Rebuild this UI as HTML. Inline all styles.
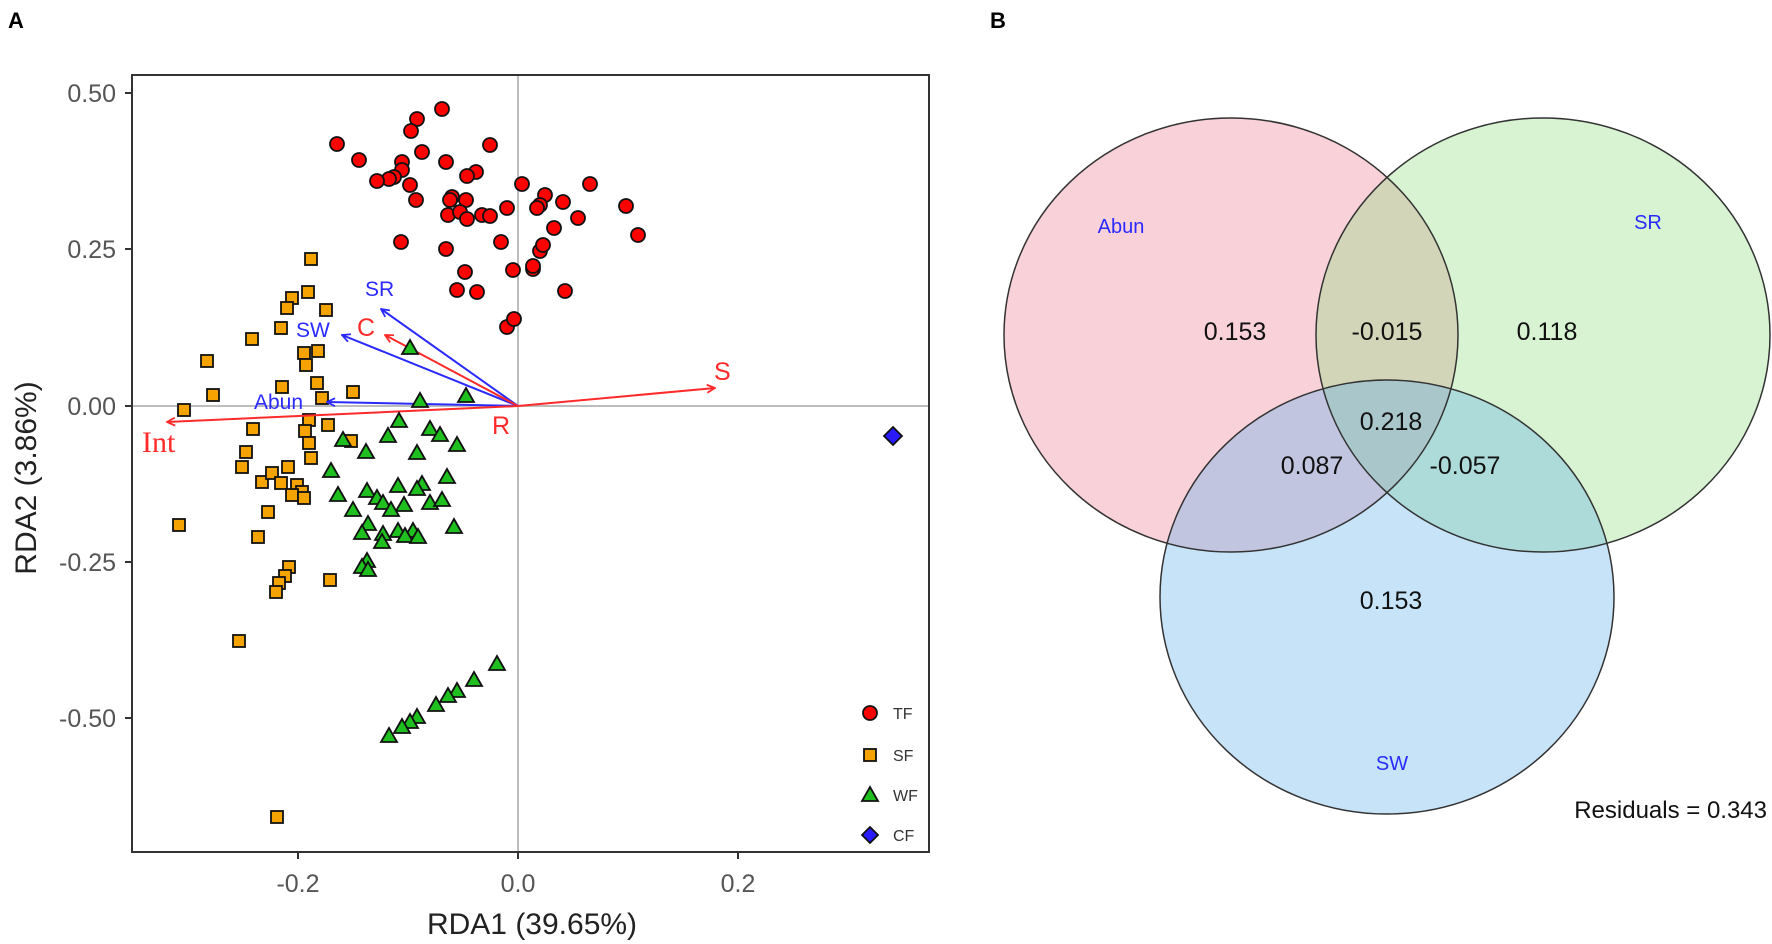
<!DOCTYPE html>
<html><head><meta charset="utf-8"><style>
html,body{margin:0;padding:0;background:#fff;}
svg{display:block;font-family:"Liberation Sans",sans-serif;}
</style></head><body>
<svg width="1772" height="944" viewBox="0 0 1772 944" xmlns="http://www.w3.org/2000/svg">
<defs>
<marker id="ab" markerWidth="10" markerHeight="10" refX="9" refY="5" orient="auto" markerUnits="userSpaceOnUse"><path d="M1,1 L9,5 L1,9" fill="none" stroke="#2a2aff" stroke-width="1.8"/></marker>
<marker id="ar" markerWidth="10" markerHeight="10" refX="9" refY="5" orient="auto" markerUnits="userSpaceOnUse"><path d="M1,1 L9,5 L1,9" fill="none" stroke="#ff2a2a" stroke-width="1.8"/></marker>
</defs>
<text x="8" y="28" font-size="22" font-weight="bold">A</text>
<text x="990" y="28" font-size="22" font-weight="bold">B</text>
<line x1="132" y1="406" x2="930" y2="406" stroke="#bdbdbd" stroke-width="2"/>
<line x1="518" y1="75" x2="518" y2="852" stroke="#bdbdbd" stroke-width="2"/>
<g fill="#ff0000" stroke="#111" stroke-width="1.8">
<circle cx="337" cy="144" r="7"/><circle cx="359" cy="160" r="7"/><circle cx="417" cy="119" r="7"/><circle cx="411" cy="131" r="7"/><circle cx="442" cy="109" r="7"/><circle cx="402" cy="162" r="7"/><circle cx="402" cy="170" r="7"/><circle cx="394" cy="177" r="7"/><circle cx="389" cy="179" r="7"/><circle cx="377" cy="181" r="7"/><circle cx="410" cy="185" r="7"/><circle cx="422" cy="152" r="7"/><circle cx="446" cy="162" r="7"/><circle cx="490" cy="145" r="7"/><circle cx="476" cy="172" r="7"/><circle cx="467" cy="176" r="7"/><circle cx="416" cy="200" r="7"/><circle cx="452" cy="197" r="7"/><circle cx="450" cy="200" r="7"/><circle cx="466" cy="200" r="7"/><circle cx="448" cy="215" r="7"/><circle cx="460" cy="212" r="7"/><circle cx="467" cy="219" r="7"/><circle cx="482" cy="215" r="7"/><circle cx="490" cy="216" r="7"/><circle cx="507" cy="208" r="7"/><circle cx="401" cy="242" r="7"/><circle cx="446" cy="249" r="7"/><circle cx="501" cy="242" r="7"/><circle cx="465" cy="272" r="7"/><circle cx="457" cy="290" r="7"/><circle cx="477" cy="292" r="7"/><circle cx="513" cy="270" r="7"/><circle cx="507" cy="327" r="7"/><circle cx="514" cy="319" r="7"/>
<circle cx="522" cy="184" r="7"/><circle cx="590" cy="184" r="7"/><circle cx="545" cy="195" r="7"/><circle cx="540" cy="205" r="7"/><circle cx="537" cy="208" r="7"/><circle cx="563" cy="202" r="7"/><circle cx="578" cy="218" r="7"/><circle cx="626" cy="206" r="7"/><circle cx="638" cy="235" r="7"/><circle cx="554" cy="228" r="7"/><circle cx="540" cy="251" r="7"/><circle cx="543" cy="245" r="7"/><circle cx="533" cy="269" r="7"/><circle cx="533" cy="266" r="7"/><circle cx="565" cy="291" r="7"/>
</g>
<g fill="#f5a300" stroke="#111" stroke-width="1.8">
<rect x="305" y="253" width="12" height="12"/><rect x="302" y="286" width="12" height="12"/><rect x="286" y="292" width="12" height="12"/><rect x="281" y="302" width="12" height="12"/><rect x="320" y="304" width="12" height="12"/><rect x="275" y="322" width="12" height="12"/><rect x="246" y="333" width="12" height="12"/><rect x="201" y="355" width="12" height="12"/><rect x="298" y="347" width="12" height="12"/><rect x="312" y="345" width="12" height="12"/><rect x="300" y="359" width="12" height="12"/><rect x="207" y="389" width="12" height="12"/><rect x="178" y="404" width="12" height="12"/><rect x="276" y="381" width="12" height="12"/><rect x="311" y="377" width="12" height="12"/><rect x="347" y="386" width="12" height="12"/><rect x="316" y="392" width="12" height="12"/><rect x="303" y="414" width="12" height="12"/><rect x="322" y="419" width="12" height="12"/><rect x="299" y="425" width="12" height="12"/><rect x="303" y="437" width="12" height="12"/><rect x="305" y="452" width="12" height="12"/><rect x="345" y="435" width="12" height="12"/><rect x="247" y="423" width="12" height="12"/><rect x="240" y="446" width="12" height="12"/><rect x="236" y="461" width="12" height="12"/><rect x="256" y="476" width="12" height="12"/><rect x="266" y="467" width="12" height="12"/><rect x="282" y="461" width="12" height="12"/><rect x="275" y="477" width="12" height="12"/><rect x="291" y="479" width="12" height="12"/><rect x="296" y="486" width="12" height="12"/><rect x="286" y="489" width="12" height="12"/><rect x="298" y="492" width="12" height="12"/><rect x="262" y="506" width="12" height="12"/><rect x="173" y="519" width="12" height="12"/><rect x="252" y="531" width="12" height="12"/><rect x="283" y="561" width="12" height="12"/><rect x="279" y="570" width="12" height="12"/><rect x="273" y="577" width="12" height="12"/><rect x="270" y="586" width="12" height="12"/><rect x="324" y="574" width="12" height="12"/><rect x="233" y="635" width="12" height="12"/><rect x="271" y="811" width="12" height="12"/>
</g>
<g stroke-width="2" fill="none">
<line x1="518" y1="406" x2="381" y2="309" stroke="#2a2aff" marker-end="url(#ab)"/>
<line x1="518" y1="406" x2="342" y2="335" stroke="#2a2aff" marker-end="url(#ab)"/>
<line x1="518" y1="406" x2="385" y2="335" stroke="#ff2a2a" marker-end="url(#ar)"/>
<line x1="518" y1="406" x2="327" y2="402" stroke="#2a2aff" marker-end="url(#ab)"/>
<line x1="518" y1="406" x2="167" y2="422" stroke="#ff2a2a" marker-end="url(#ar)"/>
<line x1="518" y1="406" x2="715" y2="388" stroke="#ff2a2a" marker-end="url(#ar)"/>
</g>
<g fill="#1fbf1f" stroke="#111" stroke-width="1.8">
<path d="M410,340 l8,14 h-16z"/><path d="M420,393 l8,14 h-16z"/><path d="M466,388 l8,14 h-16z"/>
<path d="M399,413 l8,14 h-16z"/><path d="M430,421 l8,14 h-16z"/><path d="M440,427 l8,14 h-16z"/><path d="M388,428 l8,14 h-16z"/><path d="M343,432 l8,14 h-16z"/><path d="M457,437 l8,14 h-16z"/><path d="M366,444 l8,14 h-16z"/><path d="M417,445 l8,14 h-16z"/><path d="M331,463 l8,14 h-16z"/><path d="M447,469 l8,14 h-16z"/><path d="M398,478 l8,14 h-16z"/><path d="M422,476 l8,14 h-16z"/><path d="M417,481 l8,14 h-16z"/><path d="M367,483 l8,14 h-16z"/><path d="M338,487 l8,14 h-16z"/><path d="M377,490 l8,14 h-16z"/><path d="M383,495 l8,14 h-16z"/><path d="M430,495 l8,14 h-16z"/><path d="M442,492 l8,14 h-16z"/><path d="M404,497 l8,14 h-16z"/><path d="M391,502 l8,14 h-16z"/><path d="M353,502 l8,14 h-16z"/><path d="M368,516 l8,14 h-16z"/><path d="M362,525 l8,14 h-16z"/><path d="M398,523 l8,14 h-16z"/><path d="M413,523 l8,14 h-16z"/><path d="M383,526 l8,14 h-16z"/><path d="M405,528 l8,14 h-16z"/><path d="M418,529 l8,14 h-16z"/><path d="M382,534 l8,14 h-16z"/><path d="M454,519 l8,14 h-16z"/><path d="M367,553 l8,14 h-16z"/><path d="M362,559 l8,14 h-16z"/><path d="M368,562 l8,14 h-16z"/>
<path d="M497,656 l8,14 h-16z"/><path d="M474,672 l8,14 h-16z"/><path d="M457,683 l8,14 h-16z"/><path d="M448,688 l8,14 h-16z"/><path d="M436,697 l8,14 h-16z"/><path d="M417,709 l8,14 h-16z"/><path d="M410,714 l8,14 h-16z"/><path d="M402,719 l8,14 h-16z"/><path d="M389,728 l8,14 h-16z"/>
</g>
<path d="M893,427 l9,9 l-9,9 l-9,-9z" fill="#2a1aff" stroke="#111" stroke-width="1.8"/>
<g font-size="21" fill="#2a2aff">
<text x="365" y="296">SR</text><text x="296" y="337">SW</text><text x="254" y="409">Abun</text>
</g>
<g fill="#ff2a2a">
<text x="357" y="336" font-size="25">C</text>
<text x="714" y="380" font-size="25">S</text>
<text x="492" y="434" font-size="25">R</text>
<text x="142" y="452" font-size="30" font-family="Liberation Serif,serif">Int</text>
</g>
<rect x="132" y="75" width="797" height="777" fill="none" stroke="#333" stroke-width="2"/>
<g stroke="#333" stroke-width="2">
<line x1="125" y1="93" x2="132" y2="93"/><line x1="125" y1="249" x2="132" y2="249"/><line x1="125" y1="406" x2="132" y2="406"/><line x1="125" y1="562" x2="132" y2="562"/><line x1="125" y1="718" x2="132" y2="718"/>
<line x1="298" y1="852" x2="298" y2="859"/><line x1="518" y1="852" x2="518" y2="859"/><line x1="738" y1="852" x2="738" y2="859"/>
</g>
<g font-size="25" fill="#555" text-anchor="end">
<text x="116" y="102">0.50</text><text x="116" y="258">0.25</text><text x="116" y="415">0.00</text><text x="116" y="571">-0.25</text><text x="116" y="727">-0.50</text>
</g>
<g font-size="25" fill="#555" text-anchor="middle">
<text x="298" y="892">-0.2</text><text x="518" y="892">0.0</text><text x="738" y="892">0.2</text>
</g>
<text x="532" y="934" font-size="30" fill="#222" text-anchor="middle">RDA1 (39.65%)</text>
<text transform="translate(36,478) rotate(-90)" font-size="30" fill="#222" text-anchor="middle">RDA2 (3.86%)</text>
<circle cx="870" cy="713" r="7" fill="#ff0000" stroke="#111" stroke-width="1.8"/>
<rect x="864" y="749" width="12" height="12" fill="#f5a300" stroke="#111" stroke-width="1.8"/>
<path d="M870,787 l8,14 h-16z" fill="#1fbf1f" stroke="#111" stroke-width="1.8"/>
<path d="M870,827 l8,8 l-8,8 l-8,-8z" fill="#2a1aff" stroke="#111" stroke-width="1.8"/>
<g font-size="16" fill="#333"><text x="893" y="719">TF</text><text x="893" y="761">SF</text><text x="893" y="801">WF</text><text x="893" y="841">CF</text></g>
<ellipse cx="1231" cy="335" rx="227" ry="217" fill="#e8718a" fill-opacity="0.32"/>
<ellipse cx="1543" cy="335" rx="227" ry="217" fill="#8ddc7c" fill-opacity="0.35"/>
<ellipse cx="1387" cy="597" rx="227" ry="217" fill="#5fb0ea" fill-opacity="0.35"/>
<g fill="none" stroke="#333" stroke-width="1.5">
<ellipse cx="1231" cy="335" rx="227" ry="217"/><ellipse cx="1543" cy="335" rx="227" ry="217"/><ellipse cx="1387" cy="597" rx="227" ry="217"/>
</g>
<g font-size="20" fill="#2a2aff" text-anchor="middle"><text x="1121" y="233">Abun</text><text x="1648" y="229">SR</text><text x="1392" y="770">SW</text></g>
<g font-size="25" fill="#111" text-anchor="middle">
<text x="1235" y="340">0.153</text><text x="1387" y="340">-0.015</text><text x="1547" y="340">0.118</text><text x="1391" y="430">0.218</text><text x="1312" y="474">0.087</text><text x="1465" y="474">-0.057</text><text x="1391" y="609">0.153</text>
</g>
<text x="1767" y="818" font-size="24" fill="#111" text-anchor="end">Residuals =  0.343</text>
</svg>
</body></html>
